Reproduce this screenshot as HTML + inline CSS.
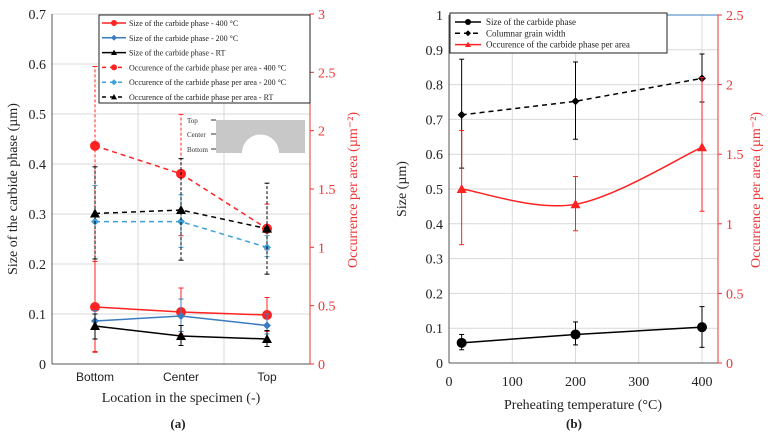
<!DOCTYPE html>
<html><head><meta charset="utf-8"><style>
html,body{margin:0;padding:0;background:#fff;}
svg{display:block;font-family:"Liberation Serif",serif;}
</style></head><body>
<svg id="c" width="772" height="434" viewBox="0 0 772 434"></svg>
<script>
// Panel (a) data
const catsA=["Bottom","Center","Top"];
const size400=[0.114,0.104,0.098], size400Lo=[0.025,0.06,0.065], size400Hi=[0.205,0.152,0.133];
const size200=[0.086,0.096,0.077], size200Lo=[0.05,0.065,0.06], size200Hi=[0.107,0.13,0.1];
const sizeRT=[0.076,0.056,0.050], sizeRTLo=[0.05,0.037,0.035], sizeRTHi=[0.1,0.077,0.067];
const occ400=[1.87,1.63,1.16], occ400Lo=[0.1,1.1,0.98], occ400Hi=[2.55,2.14,1.37];
const occ200=[1.22,1.22,1.0], occ200Lo=[0.9,1.0,0.92], occ200Hi=[1.53,1.45,1.1];
const occRT=[1.29,1.32,1.16], occRTLo=[0.9,0.89,0.77], occRTHi=[1.69,1.76,1.55];
const ticksAL=[0,0.1,0.2,0.3,0.4,0.5,0.6,0.7], ticksAR=[0,0.5,1,1.5,2,2.5,3];
// Panel (b) data
const tempsB=[20,200,400];
const sizeB=[0.058,0.082,0.103], sizeBLo=[0.038,0.052,0.045], sizeBHi=[0.082,0.118,0.162];
const grainB=[0.713,0.752,0.818], grainBLo=[0.56,0.643,0.75], grainBHi=[0.873,0.865,0.888];
const occB=[1.25,1.14,1.55], occBLo=[0.85,0.95,1.09], occBHi=[1.67,1.34,2.05];
const ticksBX=[0,100,200,300,400], ticksBL=[0,0.1,0.2,0.3,0.4,0.5,0.6,0.7,0.8,0.9,1], ticksBR=[0,0.5,1,1.5,2,2.5];

const svg=document.getElementById('c');
const NS="http://www.w3.org/2000/svg";
function el(tag,attrs,parent){const e=document.createElementNS(NS,tag);for(const k in attrs)e.setAttribute(k,attrs[k]);(parent||svg).appendChild(e);return e;}
function txt(x,y,s,attrs){const e=el('text',Object.assign({x:x,y:y},attrs||{}));e.textContent=s;return e;}

// ---------- Panel A ----------
const aL=52,aR=310,aT=14,aB=364;
const ayL=v=>aB-v/0.7*(aB-aT), ayR=v=>aB-v/3*(aB-aT);
const axA=i=>aL+(i+0.5)*(aR-aL)/3;
for(const t of ticksAL){const g=el('line',{x1:aL,x2:aR,y1:ayL(t),y2:ayL(t),stroke:'#d9d9d9'});
 const l=txt(aL-6,ayL(t)+5,String(t),{'text-anchor':'end','font-size':14,fill:'#222'});}
for(let i=1;i<3;i++){const x=aL+i*(aR-aL)/3;el('line',{x1:x,x2:x,y1:aT,y2:aB,stroke:'#d9d9d9'});}
el('line',{x1:aL,x2:aL,y1:aT,y2:aB,stroke:'#555'});
el('line',{x1:aL,x2:aR,y1:aB,y2:aB,stroke:'#555'});
el('line',{x1:aR,x2:aR,y1:aT,y2:aB,stroke:'#e33'});
for(const t of ticksAR){el('line',{x1:aR,x2:aR+4,y1:ayR(t),y2:ayR(t),stroke:'#e33'});
 const l=txt(aR+8,ayR(t)+5,String(t),{'font-size':14,fill:'#e33'});}
catsA.forEach((c,i)=>{const l=txt(axA(i),381,c,{'text-anchor':'middle','font-size':12,'font-family':'Liberation Sans, sans-serif',fill:'#222'});});
let t1=txt(181,402,"Location in the specimen (-)",{'text-anchor':'middle','font-size':14,fill:'#222'});
let t2=txt(0,0,"Size of the carbide phase (µm)",{'text-anchor':'middle','font-size':14,fill:'#222',transform:'translate(17,189) rotate(-90)'});
let t3=txt(0,0,"Occurrence per area (µm⁻²)",{'text-anchor':'middle','font-size':14,fill:'#e33',transform:'translate(357,190) rotate(-90)'});
let t4=txt(178,428,"(a)",{'text-anchor':'middle','font-size':13,'font-weight':'bold',fill:'#222'});

function marker(x,y,shape,col,sz){
 if(shape==='circle')return el('circle',{cx:x,cy:y,r:sz,fill:col});
 if(shape==='diamond')return el('path',{d:`M${x} ${y-sz}L${x+sz} ${y}L${x} ${y+sz}L${x-sz} ${y}Z`,fill:col});
 return el('path',{d:`M${x} ${y-sz}L${x+sz} ${y+sz*0.8}L${x-sz} ${y+sz*0.8}Z`,fill:col});
}
function series(name,xs,vals,lo,hi,yf,col,dash,shape,sz,errDash){
 const g=el('g',{});
 xs.forEach((x,i)=>{el('line',{x1:x,x2:x,y1:yf(lo[i]),y2:yf(hi[i]),stroke:col,'stroke-width':1,'stroke-dasharray':errDash?'3,2':'none'},g);
  el('line',{x1:x-2.5,x2:x+2.5,y1:yf(lo[i]),y2:yf(lo[i]),stroke:col},g);el('line',{x1:x-2.5,x2:x+2.5,y1:yf(hi[i]),y2:yf(hi[i]),stroke:col},g);});
 let d='';xs.forEach((x,i)=>{d+=(i?'L':'M')+x+' '+yf(vals[i]);});
 el('path',{d:d,fill:'none',stroke:col,'stroke-width':1.5,'stroke-dasharray':dash?'5,4':'none'},g);
 xs.forEach((x,i)=>{const m=marker(x,yf(vals[i]),shape,col,sz);g.appendChild(m);});
}
const xsA=catsA.map((c,i)=>axA(i));
series('occ-400-series',xsA,occ400,occ400Lo,occ400Hi,ayR,'#f22',true,'circle',5,true);
series('occ-200-series',xsA,occ200,occ200Lo,occ200Hi,ayR,'#3ea0d8',true,'diamond',4,true);
series('occ-rt-series',xsA,occRT,occRTLo,occRTHi,ayR,'#000',true,'tri',5,true);
series('size-400-series',xsA,size400,size400Lo,size400Hi,ayL,'#f22',false,'circle',5,false);
series('size-200-series',xsA,size200,size200Lo,size200Hi,ayL,'#3a7cc0',false,'diamond',4,false);
series('size-rt-series',xsA,sizeRT,sizeRTLo,sizeRTHi,ayL,'#000',false,'tri',5,false);
// inset
const ins=el('g',{});
el('rect',{x:216,y:120,width:89,height:33,fill:'#c8c8c8'},ins);
el('path',{d:'M242 153 A18 18 0 0 1 279 153 Z',fill:'#fff'},ins);
[['Top',123],['Center',137],['Bottom',152]].forEach(p=>{txt(187,p[1],p[0],{'font-size':7,fill:'#333'},ins);el('line',{x1:211,x2:216,y1:p[1]-3,y2:p[1]-3,stroke:'#333'},ins);});
// legend A
const lgA=el('g',{});
el('rect',{x:99,y:15,width:211,height:88,fill:'#fff',stroke:'#222'},lgA);
const legA=[["Size of the carbide phase - 400 °C",'#f22',0,'circle'],["Size of the carbide phase - 200 °C",'#3a7cc0',0,'diamond'],["Size of the carbide phase - RT",'#000',0,'tri'],["Occurence of the carbide phase per area - 400 °C",'#f22',1,'circle'],["Occurence of the carbide phase per area - 200 °C",'#3ea0d8',1,'diamond'],["Occurence of the carbide phase per area - RT",'#000',1,'tri']];
legA.forEach((e,i)=>{const y=23+i*14.8;const g=el('g',{},lgA);
 el('line',{x1:102,x2:126,y1:y,y2:y,stroke:e[1],'stroke-width':1.5,'stroke-dasharray':e[2]?'4,4':'none'},g);g.appendChild(marker(114,y,e[3],e[1],3));
 txt(129,y+3,e[0],{'font-size':8,fill:'#222'},g);});

// ---------- Panel B ----------
const bL=449,bR=718,bT=15,bB=363;
const bx=v=>bL+v/400*(702-bL), byL=v=>bB-v*(bB-bT), byR=v=>bB-v/2.5*(bB-bT);
for(const t of ticksBL){el('line',{x1:bL,x2:bR,y1:byL(t),y2:byL(t),stroke:'#d9d9d9'});
 const l=txt(bL-6,byL(t)+5,String(t),{'text-anchor':'end','font-size':14,fill:'#222'});}
for(const t of ticksBX){if(t>0)el('line',{x1:bx(t),x2:bx(t),y1:bT,y2:bB,stroke:'#d9d9d9'});
 const l=txt(bx(t),386,String(t),{'text-anchor':'middle','font-size':14,fill:'#222'});}
el('line',{x1:bL,x2:bL,y1:bT,y2:bB,stroke:'#555'});
el('line',{x1:bL,x2:bR,y1:bB,y2:bB,stroke:'#555'});
el('line',{x1:bR,x2:bR,y1:bT,y2:bB,stroke:'#e33'});
el('line',{x1:bL,x2:bR,y1:bT,y2:bT,stroke:'#3a7cc0'});
for(const t of ticksBR){el('line',{x1:bR,x2:bR+4,y1:byR(t),y2:byR(t),stroke:'#e33'});
 const l=txt(bR+8,byR(t)+5,String(t),{'font-size':14,fill:'#e33'});}
let b1=txt(583,409,"Preheating temperature (°C)",{'text-anchor':'middle','font-size':14,fill:'#222'});
let b2=txt(0,0,"Size (µm)",{'text-anchor':'middle','font-size':14,fill:'#222',transform:'translate(406,189) rotate(-90)'});
let b3=txt(0,0,"Occurrence per area (µm⁻²)",{'text-anchor':'middle','font-size':14,fill:'#e33',transform:'translate(760,190) rotate(-90)'});
let b4=txt(574,428,"(b)",{'text-anchor':'middle','font-size':13,'font-weight':'bold',fill:'#222'});
const xsB=tempsB.map(bx);
series('grain-width-series',xsB,grainB,grainBLo,grainBHi,byL,'#000',true,'diamond',4,false);
series('size-b-series',xsB,sizeB,sizeBLo,sizeBHi,byL,'#000',false,'circle',5,false);
// occurrence with smooth curve
(function(){const g=el('g',{});
 xsB.forEach((x,i)=>{el('line',{x1:x,x2:x,y1:byR(occBLo[i]),y2:byR(occBHi[i]),stroke:'#f22'},g);
  el('line',{x1:x-2.5,x2:x+2.5,y1:byR(occBLo[i]),y2:byR(occBLo[i]),stroke:'#f22'},g);el('line',{x1:x-2.5,x2:x+2.5,y1:byR(occBHi[i]),y2:byR(occBHi[i]),stroke:'#f22'},g);});
 const p=xsB.map((x,i)=>[x,byR(occB[i])]);let d=`M${p[0][0]} ${p[0][1]}`;
 for(let i=0;i<p.length-1;i++){const p0=p[i-1]||p[i],p1=p[i],p2=p[i+1],p3=p[i+2]||p2;
  d+=`C${p1[0]+(p2[0]-p0[0])/6} ${p1[1]+(p2[1]-p0[1])/6} ${p2[0]-(p3[0]-p1[0])/6} ${p2[1]-(p3[1]-p1[1])/6} ${p2[0]} ${p2[1]}`;}
 el('path',{d:d,fill:'none',stroke:'#f22','stroke-width':1.5},g);
 p.forEach(q=>g.appendChild(marker(q[0],q[1],'tri','#f22',5)));})();
// legend B
const lgB=el('g',{});
el('rect',{x:450,y:13,width:217,height:40,fill:'#fff',stroke:'#222'},lgB);
const legB=[["Size of the carbide phase",'#000',0,'circle'],["Columnar grain width",'#000',1,'diamond'],["Occurence of the carbide phase per area",'#f22',0,'tri']];
legB.forEach((e,i)=>{const y=22+i*11.3;const g=el('g',{},lgB);
 el('line',{x1:455,x2:481,y1:y,y2:y,stroke:e[1],'stroke-width':1.5,'stroke-dasharray':e[2]?'5,4':'none'},g);g.appendChild(marker(468,y,e[3],e[1],3));
 txt(486,y+3,e[0],{'font-size':9,fill:'#222'},g);});
</script>
</body></html>
